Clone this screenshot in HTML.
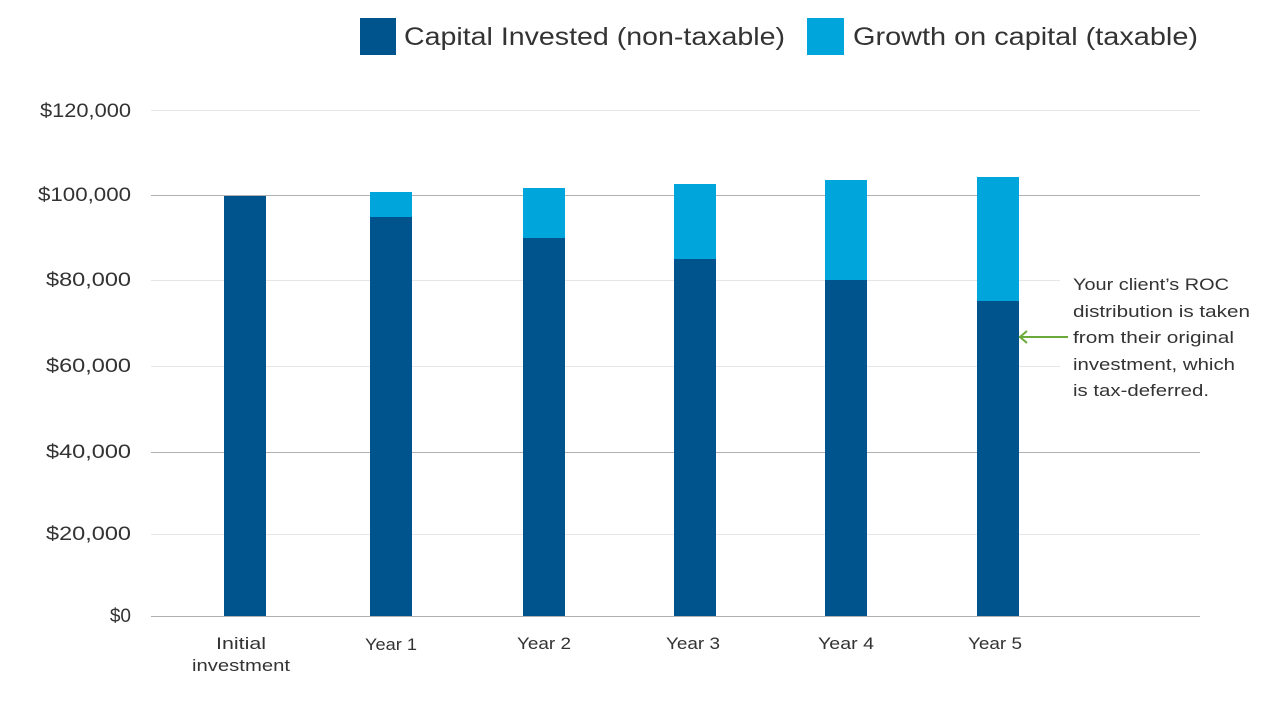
<!DOCTYPE html>
<html><head><style>
body{margin:0;background:#fff;}
svg text{font-family:"Liberation Sans",sans-serif;fill:#333;}
</style></head><body>
<svg width="1280" height="717" viewBox="0 0 1280 717" xmlns="http://www.w3.org/2000/svg">
<rect x="360" y="18" width="36" height="37" fill="#00548e"/>
<text x="404" y="45" font-size="25" fill="#222" textLength="381" lengthAdjust="spacingAndGlyphs">Capital Invested (non-taxable)</text>
<rect x="807" y="18" width="37" height="37" fill="#00a5dc"/>
<text x="853" y="45" font-size="25" fill="#222" textLength="345" lengthAdjust="spacingAndGlyphs">Growth on capital (taxable)</text>
<g stroke="#e6e6e6" stroke-width="1">
<line x1="151" y1="110.5" x2="1200" y2="110.5"/>
<line x1="151" y1="280.5" x2="1060" y2="280.5"/>
<line x1="151" y1="366.5" x2="1060" y2="366.5"/>
<line x1="151" y1="534.5" x2="1200" y2="534.5"/>
</g>
<g stroke="#b0b0b0" stroke-width="1">
<line x1="151" y1="195.5" x2="1200" y2="195.5"/>
<line x1="151" y1="452.5" x2="1200" y2="452.5"/>
<line x1="151" y1="616.5" x2="1200" y2="616.5"/>
</g>
<g font-size="19" text-anchor="end" lengthAdjust="spacingAndGlyphs">
<text x="131" y="117" textLength="91" lengthAdjust="spacingAndGlyphs">$120,000</text>
<text x="131" y="201" textLength="93" lengthAdjust="spacingAndGlyphs">$100,000</text>
<text x="131" y="286" textLength="85" lengthAdjust="spacingAndGlyphs">$80,000</text>
<text x="131" y="372" textLength="85" lengthAdjust="spacingAndGlyphs">$60,000</text>
<text x="131" y="458" textLength="85" lengthAdjust="spacingAndGlyphs">$40,000</text>
<text x="131" y="540" textLength="85" lengthAdjust="spacingAndGlyphs">$20,000</text>
<text x="131" y="622">$0</text>
</g>
<g fill="#00a5dc">
<rect x="370" y="192" width="42" height="26"/>
<rect x="523" y="188" width="42" height="51"/>
<rect x="674" y="184" width="42" height="76"/>
<rect x="825" y="180" width="42" height="101"/>
<rect x="977" y="177" width="42" height="125"/>
</g>
<g fill="#00548e">
<rect x="224" y="196" width="42" height="420"/>
<rect x="370" y="217" width="42" height="399"/>
<rect x="523" y="238" width="42" height="378"/>
<rect x="674" y="259" width="42" height="357"/>
<rect x="825" y="280" width="42" height="336"/>
<rect x="977" y="301" width="42" height="315"/>
</g>
<g font-size="17" text-anchor="middle">
<text x="241" y="649" textLength="50" lengthAdjust="spacingAndGlyphs">Initial</text>
<text x="241" y="671" textLength="98" lengthAdjust="spacingAndGlyphs">investment</text>
<text x="391" y="650" textLength="52" lengthAdjust="spacingAndGlyphs">Year 1</text>
<text x="544" y="649" textLength="54" lengthAdjust="spacingAndGlyphs">Year 2</text>
<text x="693" y="649" textLength="54" lengthAdjust="spacingAndGlyphs">Year 3</text>
<text x="846" y="649" textLength="56" lengthAdjust="spacingAndGlyphs">Year 4</text>
<text x="995" y="649" textLength="54" lengthAdjust="spacingAndGlyphs">Year 5</text>
</g>
<line x1="1019" y1="337" x2="1068" y2="337" stroke="#6aaa3a" stroke-width="2"/>
<polyline points="1027,331 1020,337 1027,343" fill="none" stroke="#6aaa3a" stroke-width="2"/>
<g font-size="17">
<text x="1073" y="290" textLength="156" lengthAdjust="spacingAndGlyphs">Your client’s ROC</text>
<text x="1073" y="317" textLength="177" lengthAdjust="spacingAndGlyphs">distribution is taken</text>
<text x="1073" y="343" textLength="161" lengthAdjust="spacingAndGlyphs">from their original</text>
<text x="1073" y="370" textLength="162" lengthAdjust="spacingAndGlyphs">investment, which</text>
<text x="1073" y="396" textLength="136" lengthAdjust="spacingAndGlyphs">is tax-deferred.</text>
</g>
</svg>
</body></html>
